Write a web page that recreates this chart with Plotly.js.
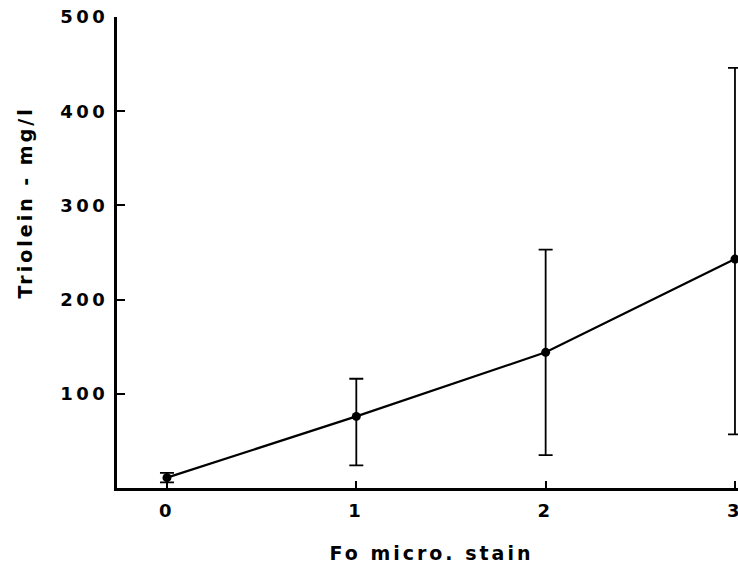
<!DOCTYPE html>
<html>
<head>
<meta charset="utf-8">
<script src="https://cdn.plot.ly/plotly-3.0.1.min.js"></script>
<style>
  html, body { margin: 0; padding: 0; background: #fff; }
  #chart { width: 738px; height: 565px; }
  #chart .xtick text, #chart .ytick text { letter-spacing: 3.5px; }
  #chart .annotation-text { letter-spacing: 3px; }
</style>
</head>
<body>
<div id="chart"></div>
<script>
// Data
const stain = [0, 1, 2, 3];
const triolein = [11, 76, 144, 243];
const errPlus = [5, 40, 109, 203];
const errMinus = [5, 52, 109, 186];
const xTicks = [0, 1, 2, 3];
const yTicks = [100, 200, 300, 400, 500];
const xTitle = 'Fo micro. stain';
const yTitle = 'Triolein - mg/l';

const fontFam = 'DejaVu Sans, Arial, sans-serif';

const trace = {
  x: stain,
  y: triolein,
  type: 'scatter',
  mode: 'lines+markers',
  line: { color: '#000', width: 2.2 },
  marker: { color: '#000', size: 9 },
  error_y: {
    type: 'data',
    symmetric: false,
    array: errPlus,
    arrayminus: errMinus,
    color: '#000',
    thickness: 1.8,
    width: 7
  },
  cliponaxis: false,
  showlegend: false
};

const layout = {
  width: 738,
  height: 565,
  margin: { l: 117, r: 0, t: 17, b: 77 },
  paper_bgcolor: '#fff',
  plot_bgcolor: '#fff',
  font: { family: fontFam, color: '#000' },
  xaxis: {
    range: [-0.264, 3.016],
    tickvals: xTicks,
    ticktext: xTicks.map(String),
    ticks: 'inside',
    ticklen: 7,
    tickwidth: 2,
    tickcolor: '#000',
    showline: true,
    linecolor: '#000',
    linewidth: 3,
    showgrid: false,
    zeroline: false,
    ticklabeloverflow: 'allow',
    tickfont: { family: fontFam, size: 18, color: '#000', weight: 'bold' },
    ticklabelstandoff: 4
  },
  yaxis: {
    range: [0, 500],
    tickvals: yTicks,
    ticktext: yTicks.map(String),
    ticks: 'inside',
    ticklen: 8,
    tickwidth: 2,
    tickcolor: '#000',
    showline: true,
    linecolor: '#000',
    linewidth: 3,
    showgrid: false,
    zeroline: false,
    tickfont: { family: fontFam, size: 18, color: '#000', weight: 'bold' },
    ticklabelstandoff: 2
  },
  annotations: [
    {
      text: xTitle,
      xref: 'paper', yref: 'paper',
      x: (431 - 117) / 621, y: (488 - 553) / 471,
      xanchor: 'center', yanchor: 'middle',
      showarrow: false,
      font: { family: fontFam, size: 19, color: '#000', weight: 'bold' }
    },
    {
      text: yTitle,
      xref: 'paper', yref: 'paper',
      x: (25 - 117) / 621, y: (488 - 203) / 471,
      xanchor: 'center', yanchor: 'middle',
      textangle: -90,
      showarrow: false,
      font: { family: fontFam, size: 19, color: '#000', weight: 'bold' }
    }
  ]
};

Plotly.newPlot('chart', [trace], layout, { staticPlot: true, displayModeBar: false });
</script>
</body>
</html>
